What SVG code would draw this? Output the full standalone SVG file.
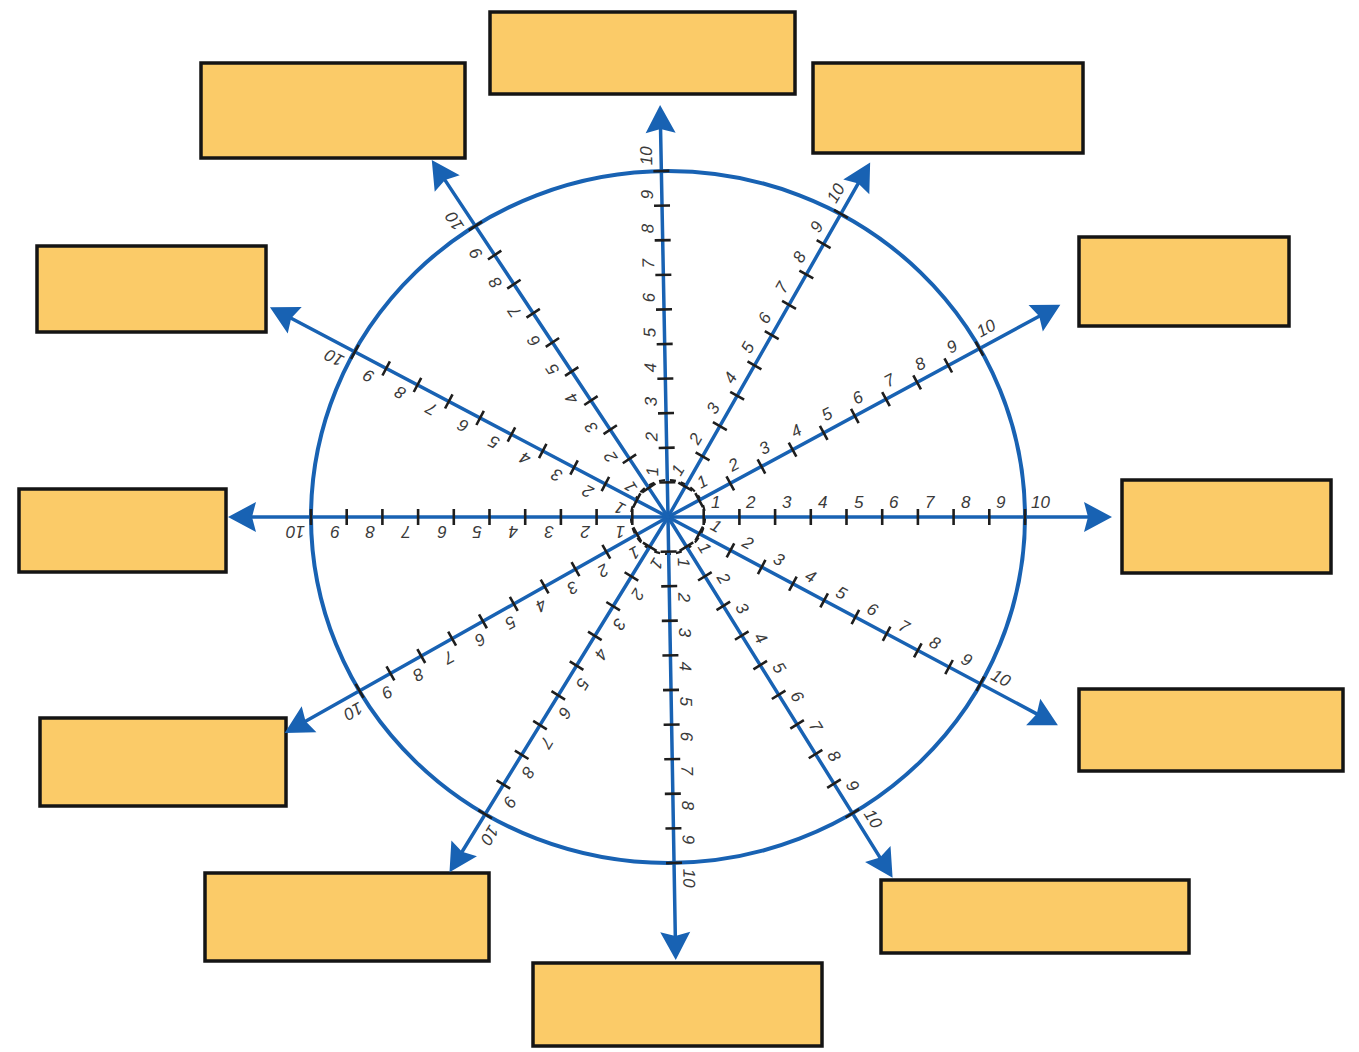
<svg xmlns="http://www.w3.org/2000/svg" width="1359" height="1052" viewBox="0 0 1359 1052">
<style>
.box{fill:#FBCB68;stroke:#141414;stroke-width:3.5;stroke-linejoin:miter}
.spoke{stroke:#1862B3;stroke-width:3.5;fill:none;stroke-linecap:round}
.head{fill:#1862B3}
.tick{stroke:#1e1e1e;stroke-width:2.6;fill:none}
.rim{fill:none;stroke:#1862B3;stroke-width:4}
.inner{fill:none;stroke:#1e1e1e;stroke-width:2.2;stroke-dasharray:6 5}
text{font-family:"Liberation Sans",Arial,sans-serif;font-style:italic;font-size:17px;fill:#3a3a3a}
</style>
<rect width="1359" height="1052" fill="#ffffff"/>
<g id="boxes">
<g id="box-top"><rect class="box" x="490" y="12" width="305" height="82"/></g>
<g id="box-top-left"><rect class="box" x="201" y="63" width="264" height="95"/></g>
<g id="box-top-right"><rect class="box" x="813" y="63" width="270" height="90"/></g>
<g id="box-right-upper"><rect class="box" x="1079" y="237" width="210" height="89"/></g>
<g id="box-right"><rect class="box" x="1122" y="480" width="209" height="93"/></g>
<g id="box-right-lower"><rect class="box" x="1079" y="689" width="264" height="82"/></g>
<g id="box-bottom-right"><rect class="box" x="881" y="880" width="308" height="73"/></g>
<g id="box-bottom"><rect class="box" x="533" y="963" width="289" height="83"/></g>
<g id="box-bottom-left"><rect class="box" x="205" y="873" width="284" height="88"/></g>
<g id="box-left-lower"><rect class="box" x="40" y="718" width="246" height="88"/></g>
<g id="box-left"><rect class="box" x="19" y="489" width="207" height="83"/></g>
<g id="box-left-upper"><rect class="box" x="37" y="246" width="229" height="86"/></g>
</g>
<g id="wheel">
<ellipse class="rim" cx="668" cy="517" rx="357" ry="346"/>
<circle class="inner" cx="668" cy="517" r="37"/>
</g>
<g id="connectors">
<g id="s1" transform="translate(668,517) rotate(-91.1)">
<path class="spoke" d="M0 0H388"/><polygon class="head" points="412,0 384,-15 388,0 384,15"/>
<path class="tick" d="M34.6-8v16M69.2-8v16M103.8-8v16M138.4-8v16M173-8v16M207.6-8v16M242.2-8v16M276.8-8v16M311.4-8v16M346-8v16"/>
<text x="41" y="-9">1</text><text x="76" y="-9">2</text><text x="111" y="-9">3</text><text x="145" y="-9">4</text><text x="180" y="-9">5</text><text x="215" y="-9">6</text><text x="249" y="-9">7</text><text x="284" y="-9">8</text><text x="318" y="-9">9</text><text x="352" y="-9">10</text>
</g>
<g id="s2" transform="translate(668,517) rotate(-60.3)">
<path class="spoke" d="M0 0H384"/><polygon class="head" points="408,0 380,-15 384,0 380,15"/>
<path class="tick" d="M34.9-8v16M69.8-8v16M104.7-8v16M139.6-8v16M174.5-8v16M209.4-8v16M244.3-8v16M279.2-8v16M314.1-8v16M349-8v16"/>
<text x="41" y="-9">1</text><text x="77" y="-9">2</text><text x="112" y="-9">3</text><text x="147" y="-9">4</text><text x="182" y="-9">5</text><text x="216" y="-9">6</text><text x="251" y="-9">7</text><text x="286" y="-9">8</text><text x="321" y="-9">9</text><text x="355" y="-9">10</text>
</g>
<g id="s3" transform="translate(668,517) rotate(-28.4)">
<path class="spoke" d="M0 0H422"/><polygon class="head" points="446,0 418,-15 422,0 418,15"/>
<path class="tick" d="M35.4-8v16M70.8-8v16M106.2-8v16M141.6-8v16M177-8v16M212.4-8v16M247.8-8v16M283.2-8v16M318.6-8v16M354-8v16"/>
<text x="42" y="-9">1</text><text x="78" y="-9">2</text><text x="113" y="-9">3</text><text x="149" y="-9">4</text><text x="184" y="-9">5</text><text x="219" y="-9">6</text><text x="255" y="-9">7</text><text x="290" y="-9">8</text><text x="326" y="-9">9</text><text x="360" y="-9">10</text>
</g>
<g id="s4" transform="translate(668,517) rotate(0)">
<path class="spoke" d="M0 0H420"/><polygon class="head" points="444,0 416,-15 420,0 416,15"/>
<path class="tick" d="M35.7-8v16M71.4-8v16M107.1-8v16M142.8-8v16M178.5-8v16M214.2-8v16M249.9-8v16M285.6-8v16M321.3-8v16M357-8v16"/>
<text x="43" y="-9">1</text><text x="78" y="-9">2</text><text x="114" y="-9">3</text><text x="150" y="-9">4</text><text x="186" y="-9">5</text><text x="221" y="-9">6</text><text x="257" y="-9">7</text><text x="293" y="-9">8</text><text x="328" y="-9">9</text><text x="363" y="-9">10</text>
</g>
<g id="s5" transform="translate(668,517) rotate(28.1)">
<path class="spoke" d="M0 0H418"/><polygon class="head" points="442,0 414,-15 418,0 414,15"/>
<path class="tick" d="M35.4-8v16M70.8-8v16M106.2-8v16M141.6-8v16M177-8v16M212.4-8v16M247.8-8v16M283.2-8v16M318.6-8v16M354-8v16"/>
<text x="42" y="-9">1</text><text x="78" y="-9">2</text><text x="113" y="-9">3</text><text x="149" y="-9">4</text><text x="184" y="-9">5</text><text x="219" y="-9">6</text><text x="255" y="-9">7</text><text x="290" y="-9">8</text><text x="326" y="-9">9</text><text x="360" y="-9">10</text>
</g>
<g id="s6" transform="translate(668,517) rotate(58.1)">
<path class="spoke" d="M0 0H401"/><polygon class="head" points="425,0 397,-15 401,0 397,15"/>
<path class="tick" d="M34.9-8v16M69.8-8v16M104.7-8v16M139.6-8v16M174.5-8v16M209.4-8v16M244.3-8v16M279.2-8v16M314.1-8v16M349-8v16"/>
<text x="41" y="-9">1</text><text x="77" y="-9">2</text><text x="112" y="-9">3</text><text x="147" y="-9">4</text><text x="182" y="-9">5</text><text x="216" y="-9">6</text><text x="251" y="-9">7</text><text x="286" y="-9">8</text><text x="321" y="-9">9</text><text x="355" y="-9">10</text>
</g>
<g id="s7" transform="translate(668,517) rotate(89)">
<path class="spoke" d="M0 0H419"/><polygon class="head" points="443,0 415,-15 419,0 415,15"/>
<path class="tick" d="M34.6-8v16M69.2-8v16M103.8-8v16M138.4-8v16M173-8v16M207.6-8v16M242.2-8v16M276.8-8v16M311.4-8v16M346-8v16"/>
<text x="41" y="-9">1</text><text x="76" y="-9">2</text><text x="111" y="-9">3</text><text x="145" y="-9">4</text><text x="180" y="-9">5</text><text x="215" y="-9">6</text><text x="249" y="-9">7</text><text x="284" y="-9">8</text><text x="318" y="-9">9</text><text x="352" y="-9">10</text>
</g>
<g id="s8" transform="translate(668,517) rotate(121.6)">
<path class="spoke" d="M0 0H393"/><polygon class="head" points="417,0 389,-15 393,0 389,15"/>
<path class="tick" d="M34.9-8v16M69.8-8v16M104.7-8v16M139.6-8v16M174.5-8v16M209.4-8v16M244.3-8v16M279.2-8v16M314.1-8v16M349-8v16"/>
<text x="41" y="-9">1</text><text x="77" y="-9">2</text><text x="112" y="-9">3</text><text x="147" y="-9">4</text><text x="182" y="-9">5</text><text x="216" y="-9">6</text><text x="251" y="-9">7</text><text x="286" y="-9">8</text><text x="321" y="-9">9</text><text x="355" y="-9">10</text>
</g>
<g id="s9" transform="translate(668,517) rotate(150.6)">
<path class="spoke" d="M0 0H416"/><polygon class="head" points="440,0 412,-15 416,0 412,15"/>
<path class="tick" d="M35.4-8v16M70.8-8v16M106.2-8v16M141.6-8v16M177-8v16M212.4-8v16M247.8-8v16M283.2-8v16M318.6-8v16M354-8v16"/>
<text x="42" y="-9">1</text><text x="78" y="-9">2</text><text x="113" y="-9">3</text><text x="149" y="-9">4</text><text x="184" y="-9">5</text><text x="219" y="-9">6</text><text x="255" y="-9">7</text><text x="290" y="-9">8</text><text x="326" y="-9">9</text><text x="360" y="-9">10</text>
</g>
<g id="s10" transform="translate(668,517) rotate(180)">
<path class="spoke" d="M0 0H416"/><polygon class="head" points="440,0 412,-15 416,0 412,15"/>
<path class="tick" d="M35.7-8v16M71.4-8v16M107.1-8v16M142.8-8v16M178.5-8v16M214.2-8v16M249.9-8v16M285.6-8v16M321.3-8v16M357-8v16"/>
<text x="43" y="-9">1</text><text x="78" y="-9">2</text><text x="114" y="-9">3</text><text x="150" y="-9">4</text><text x="186" y="-9">5</text><text x="221" y="-9">6</text><text x="257" y="-9">7</text><text x="293" y="-9">8</text><text x="328" y="-9">9</text><text x="363" y="-9">10</text>
</g>
<g id="s11" transform="translate(668,517) rotate(-152.2)">
<path class="spoke" d="M0 0H426"/><polygon class="head" points="450,0 422,-15 426,0 422,15"/>
<path class="tick" d="M35.4-8v16M70.8-8v16M106.2-8v16M141.6-8v16M177-8v16M212.4-8v16M247.8-8v16M283.2-8v16M318.6-8v16M354-8v16"/>
<text x="42" y="-9">1</text><text x="78" y="-9">2</text><text x="113" y="-9">3</text><text x="149" y="-9">4</text><text x="184" y="-9">5</text><text x="219" y="-9">6</text><text x="255" y="-9">7</text><text x="290" y="-9">8</text><text x="326" y="-9">9</text><text x="360" y="-9">10</text>
</g>
<g id="s12" transform="translate(668,517) rotate(-123.5)">
<path class="spoke" d="M0 0H404"/><polygon class="head" points="428,0 400,-15 404,0 400,15"/>
<path class="tick" d="M34.9-8v16M69.8-8v16M104.7-8v16M139.6-8v16M174.5-8v16M209.4-8v16M244.3-8v16M279.2-8v16M314.1-8v16M349-8v16"/>
<text x="41" y="-9">1</text><text x="77" y="-9">2</text><text x="112" y="-9">3</text><text x="147" y="-9">4</text><text x="182" y="-9">5</text><text x="216" y="-9">6</text><text x="251" y="-9">7</text><text x="286" y="-9">8</text><text x="321" y="-9">9</text><text x="355" y="-9">10</text>
</g>
</g>
</svg>
